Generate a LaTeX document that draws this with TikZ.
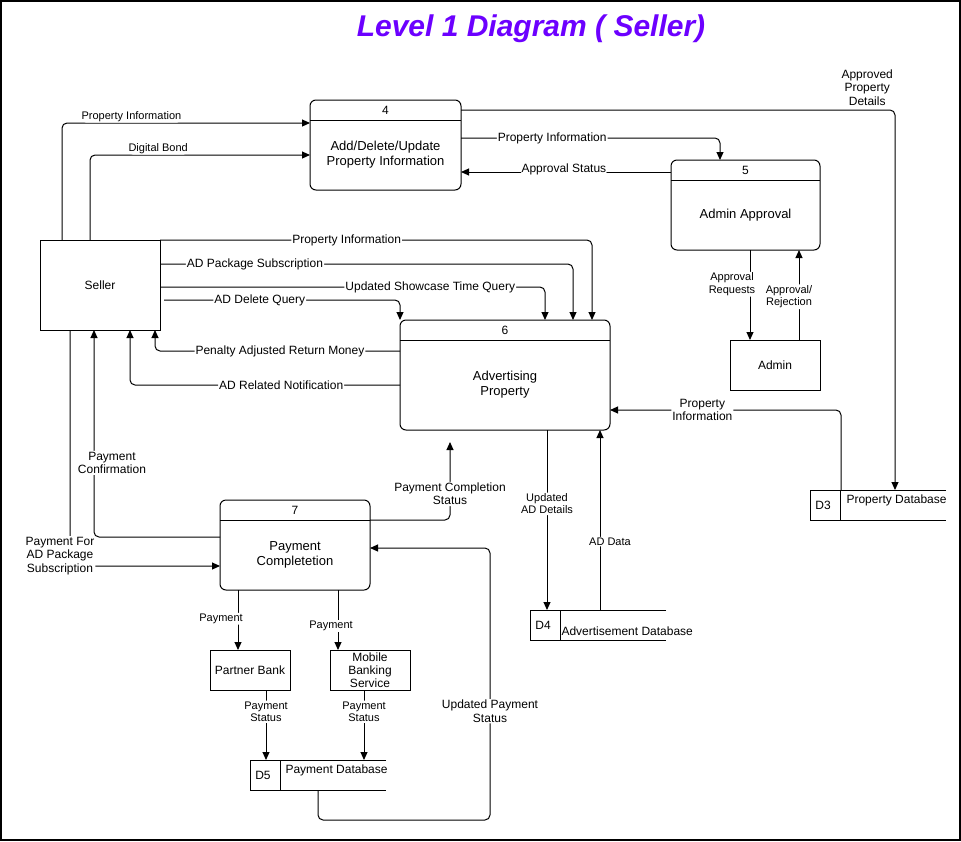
\documentclass[tikz,border=0pt]{standalone}
\usepackage{fontspec}
\setmainfont{Liberation Sans}
\usetikzlibrary{arrows.meta}
\definecolor{titleviolet}{RGB}{108,0,255}

\begin{document}
\begin{tikzpicture}[x=1pt,y=-1pt,line width=1pt,
		proc/.style={draw,rounded corners=6pt,inner sep=0pt,outer sep=0pt},
		ent/.style={draw,inner sep=0pt,outer sep=0pt,align=center,font=\fontsize{12}{13}\selectfont},
		store/.style={inner sep=0pt,outer sep=0pt},
		ptext/.style={align=center,font=\fontsize{13}{15}\selectfont},
		pnum/.style={font=\fontsize{12}{14}\selectfont},
		flow/.style={draw,rounded corners=5pt,-{Triangle[length=8pt,width=7pt]}},
		lbl/.style={fill=white,inner sep=1pt,align=center,font=\fontsize{11}{12.5}\selectfont},
		blbl/.style={fill=white,inner sep=1pt,align=center,font=\fontsize{12}{13.5}\selectfont}]

	\useasboundingbox (0,0) rectangle (961,841);
	\draw[line width=2pt] (1,1) rectangle (960,840);

	\node[font=\fontsize{30}{34}\selectfont\bfseries\itshape,text=titleviolet] (title) at (531,29) {Level 1 Diagram ( Seller)};

	\node[ent,minimum width=120,minimum height=90] 	(seller)	at (100,285)	{Seller};
	\node[ent,minimum width=90,minimum height=50] 	(admin)		at (775,365)	{Admin};
	\node[ent,minimum width=80,minimum height=40] 	(bank)		at (250,670)	{Partner Bank};
	\node[ent,minimum width=80,minimum height=40] 	(mobile)	at (370,670)	{Mobile\\Banking\\Service};

	\node[proc,minimum width=151,minimum height=90] 	(p4)	at (385.5,145)	{};
	\node[proc,minimum width=149,minimum height=90] 	(p5)	at (745.5,205)	{};
	\node[proc,minimum width=210,minimum height=110] 	(p6)	at (505,375)	{};
	\node[proc,minimum width=150,minimum height=90] 	(p7)	at (295,545)	{};

	\draw ([yshift=-20]p4.north west) -- ([yshift=-20]p4.north east);
	\draw ([yshift=-20]p5.north west) -- ([yshift=-20]p5.north east);
	\draw ([yshift=-20]p6.north west) -- ([yshift=-20]p6.north east);
	\draw ([yshift=-20]p7.north west) -- ([yshift=-20]p7.north east);

	\node[pnum] (p4num) at ([yshift=-10]p4.north) {4};
	\node[pnum] (p5num) at ([yshift=-10]p5.north) {5};
	\node[pnum] (p6num) at ([yshift=-10]p6.north) {6};
	\node[pnum] (p7num) at ([yshift=-10]p7.north) {7};

	\node[ptext] (p4txt) at ([yshift=-10]p4.center) {Add/Delete/Update\\Property Information};
	\node[ptext] (p5txt) at ([yshift=-10]p5.center) {Admin Approval};
	\node[ptext] (p6txt) at ([yshift=-10]p6.center) {Advertising\\Property};
	\node[ptext] (p7txt) at ([yshift=-10]p7.center) {Payment\\Completetion};

	\node[store,minimum width=136,minimum height=30] (d3) at (878,505) {};
	\node[store,minimum width=136,minimum height=30] (d4) at (598,625) {};
	\node[store,minimum width=136,minimum height=30] (d5) at (318,775) {};

	\draw (d3.north east) -- (d3.north west) -- (d3.south west) -- (d3.south east);
	\draw (d4.north east) -- (d4.north west) -- (d4.south west) -- (d4.south east);
	\draw (d5.north east) -- (d5.north west) -- (d5.south west) -- (d5.south east);
	\draw ([xshift=30]d3.north west) -- ([xshift=30]d3.south west);
	\draw ([xshift=30]d4.north west) -- ([xshift=30]d4.south west);
	\draw ([xshift=30]d5.north west) -- ([xshift=30]d5.south west);

	\node[pnum] (d3id) at ([xshift=13]d3.west) {D3};
	\node[pnum] (d4id) at ([xshift=13]d4.west) {D4};
	\node[pnum] (d5id) at ([xshift=13]d5.west) {D5};
	\node[pnum,anchor=west,inner sep=0pt] (d3name) at ([xshift=36,yshift=5]d3.west) {Property Database};
	\node[pnum,anchor=west,inner sep=0pt] (d4name) at ([xshift=31,yshift=-6]d4.west) {Advertisement Database};
	\node[pnum,anchor=west,inner sep=0pt] (d5name) at ([xshift=35,yshift=5]d5.west) {Payment Database};

	\draw[flow] ([xshift=22]seller.north west) |- ([yshift=-23]p4.north west) node[lbl,pos=0.64,above] {Property Information};
	\draw[flow] ([xshift=50]seller.north west) |- ([yshift=-55]p4.north west) node[lbl,pos=0.655,above] {Digital Bond};
	\draw[flow] ([yshift=-38]p4.north east) -| ([xshift=-25.5]p5.north) node[blbl,pos=0.176] {Property Information};
	\draw[flow] ([yshift=-12]p5.north west) -- ([yshift=-72]p4.north east) node[blbl,pos=0.51,yshift=3] {Approval Status};
	\draw[flow] ([yshift=-10]p4.north east) -| ([xshift=17]d3.north) node[blbl,pos=0.468,above,yshift=3] {Approved\\Property\\Details};
	\draw[flow] ([xshift=4.5]p5.south) -- ([xshift=-25]admin.north) node[lbl,pos=0.38,xshift=-18] {Approval\\Requests};
	\draw[flow] ([xshift=24]admin.north) -- ([xshift=53.5]p5.south) node[lbl,pos=0.48,xshift=-10] {Approval/\\Rejection};

	\draw[flow] (seller.north east) -| ([xshift=87]p6.north) node[blbl,pos=0.216] {Property Information};
	\draw[flow] ([yshift=-24]seller.north east) -| ([xshift=68]p6.north) node[blbl,pos=0.115] {AD Package Subscription};
	\draw[flow] ([yshift=-47]seller.north east) -| ([xshift=40]p6.north) node[blbl,pos=0.351] {Updated Showcase Time Query};
	\draw[flow] ([xshift=4,yshift=-60]seller.north east) -| (p6.north west) node[blbl,pos=0.203] {AD Delete Query};
	\draw[flow] ([yshift=-31]p6.north west) -| ([xshift=-5]seller.south east) node[blbl,pos=0.245] {Penalty Adjusted Return Money};
	\draw[flow] ([yshift=-65]p6.north west) -| ([xshift=30]seller.south) node[blbl,pos=0.22] {AD Related Notification};
	\draw[flow] ([yshift=-37]p7.north west) -| ([xshift=-6]seller.south) node[blbl,pos=0.679,xshift=18] {Payment\\Confirmation};
	\draw[flow] ([xshift=30]seller.south west) |- ([yshift=-66]p7.north west) node[blbl,pos=0.5,xshift=-10,yshift=10] {Payment For\\AD Package\\Subscription};

	\coordinate (p6in) at ([xshift=-55,yshift=-12]p6.south);
	\draw[flow] ([yshift=-20]p7.north east) -| (p6in) node[blbl,pos=0.667] {Payment Completion\\Status};
	\draw[flow] (d5.south) |- (490,820) |- ([yshift=-48]p7.north east) node[blbl,pos=0.2] {Updated Payment\\Status};

	\draw[flow] ([xshift=18]p7.south west) -- ([xshift=-12]bank.north) node[lbl,pos=0.48,xshift=-17] {Payment};
	\draw[flow] ([xshift=118]p7.south west) -- ([xshift=-32]mobile.north) node[lbl,pos=0.6,xshift=-7] {Payment};
	\draw[flow] ([xshift=16]bank.south) -- ([xshift=-52]d5.north) node[lbl,pos=0.31] {Payment\\Status};
	\draw[flow] ([xshift=-6]mobile.south) -- ([xshift=46]d5.north) node[lbl,pos=0.31] {Payment\\Status};

	\draw[flow] ([xshift=42]p6.south) -- ([xshift=-51]d4.north) node[lbl,pos=0.41] {Updated\\AD Details};
	\draw[flow] ([xshift=2]d4.north) -- ([xshift=95]p6.south) node[lbl,pos=0.38,xshift=10] {AD Data};
	\draw[flow] ([xshift=-37]d3.north) |- ([yshift=20]p6.south east) node[blbl,pos=0.8] {Property\\Information};
\end{tikzpicture}
\end{document}
